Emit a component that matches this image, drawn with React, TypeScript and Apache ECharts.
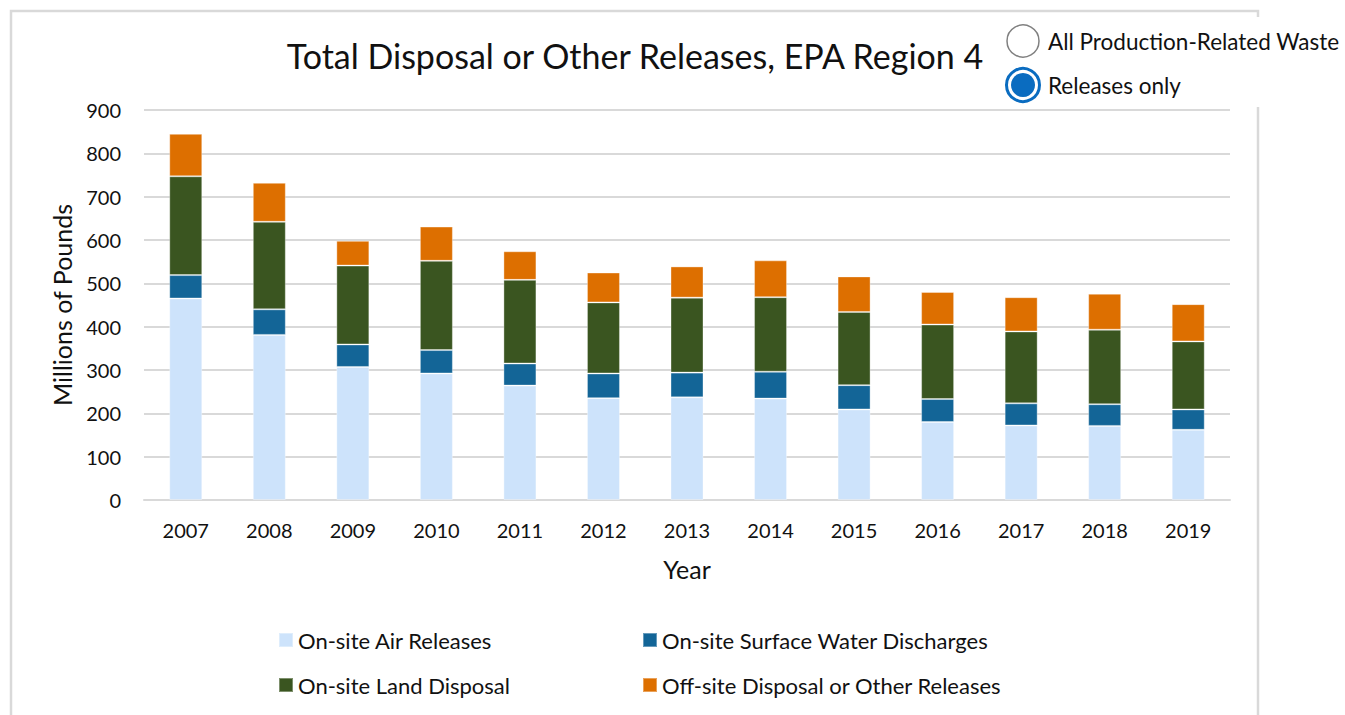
import React, { useEffect, useRef } from "react";
import * as echarts from "echarts";

const years = ["2007", "2008", "2009", "2010", "2011", "2012", "2013", "2014", "2015", "2016", "2017", "2018", "2019"];
const airReleases = [465, 381, 307, 292, 264, 235, 237, 234, 209, 180, 172, 171, 162];
const waterDischarges = [54, 59, 52, 54, 51, 57, 57, 62, 56, 53, 51, 50, 47];
const landDisposal = [228, 202, 182, 206, 193, 164, 173, 172, 169, 172, 166, 172, 157];
const offsiteDisposal = [98, 90, 57, 79, 66, 69, 72, 85, 82, 75, 79, 83, 86];
const seriesNames = [
  "On-site Air Releases",
  "On-site Surface Water Discharges",
  "On-site Land Disposal",
  "Off-site Disposal or Other Releases",
];
const seriesColors = ["#cde3fb", "#136597", "#3a5520", "#dd6f00"];
const radioLabels = ["All Production-Related Waste", "Releases only"];
const titleText = "Total Disposal or Other Releases, EPA Region 4";

const FONT = "Lato";

export default function App() {
  const ref = useRef<HTMLDivElement>(null);
  useEffect(() => {
    if (!ref.current) return;
    const chart = echarts.init(ref.current, undefined, { renderer: "svg" });
    const seriesData = [airReleases, waterDischarges, landDisposal, offsiteDisposal];
    const legendPos = [
      { left: 278, top: 629 },
      { left: 642, top: 629 },
      { left: 278, top: 674 },
      { left: 642, top: 674 },
    ];
    chart.setOption({
      animation: false,
      backgroundColor: "#ffffff",
      textStyle: { fontFamily: FONT },
      grid: { left: 144, right: 115, top: 110, bottom: 215, containLabel: false },
      legend: seriesNames.map((n, i) => ({
        data: [n],
        left: legendPos[i].left,
        top: legendPos[i].top,
        padding: 0,
        itemWidth: 14,
        itemHeight: 14,
        itemGap: 5,
        icon: "rect",
        selectedMode: false,
        textStyle: { fontFamily: FONT, fontSize: 22, color: "#111", padding: [0, 0, 0, 0] },
      })),
      xAxis: {
        type: "category",
        data: years,
        name: "Year",
        nameLocation: "middle",
        nameGap: 56,
        nameTextStyle: { fontFamily: FONT, fontSize: 25, color: "#111" },
        axisLine: { show: true, lineStyle: { color: "#d9d9d9", width: 2 } },
        axisTick: { show: false },
        axisLabel: { fontFamily: FONT, fontSize: 20, color: "#111", margin: 20 },
      },
      yAxis: {
        type: "value",
        min: 0,
        max: 900,
        interval: 100,
        name: "Millions of Pounds",
        nameLocation: "middle",
        nameGap: 70,
        nameTextStyle: { fontFamily: FONT, fontSize: 25, color: "#111" },
        axisLine: { show: false },
        axisTick: { show: false },
        axisLabel: { fontFamily: FONT, fontSize: 20, color: "#111", margin: 23 },
        splitLine: { lineStyle: { color: "#d9d9d9", width: 2 } },
      },
      series: seriesNames.map((n, i) => ({
        name: n,
        type: "bar",
        stack: "total",
        barWidth: 33,
        data: seriesData[i],
        itemStyle: { color: seriesColors[i], borderColor: "rgba(255,255,255,0.35)", borderWidth: 1 },
      })),
      graphic: [
        {
          type: "rect",
          z: -1,
          silent: true,
          shape: { x: 11, y: 11, width: 1247, height: 800 },
          style: { fill: "none", stroke: "#d9d9d9", lineWidth: 2.5 },
        },
        {
          type: "text",
          x: 635,
          y: 55,
          style: {
            text: titleText,
            fontFamily: FONT,
            fontSize: 34,
            fill: "#111",
            textAlign: "center",
            textVerticalAlign: "middle",
          },
        },
        {
          type: "rect",
          z: 10,
          shape: { x: 995, y: 17, width: 350, height: 90 },
          style: { fill: "#ffffff" },
        },
        {
          type: "circle",
          z: 11,
          shape: { cx: 1023, cy: 41, r: 16 },
          style: { fill: "#ffffff", stroke: "#808080", lineWidth: 1.5 },
        },
        {
          type: "circle",
          z: 11,
          shape: { cx: 1023, cy: 85, r: 16.5 },
          style: { fill: "#ffffff", stroke: "#0a6cc0", lineWidth: 3 },
        },
        {
          type: "circle",
          z: 12,
          shape: { cx: 1023, cy: 85, r: 12 },
          style: { fill: "#0a6cc0" },
        },
        {
          type: "text",
          z: 12,
          x: 1048,
          y: 41,
          style: { text: radioLabels[0], fontFamily: FONT, fontSize: 22.5, fill: "#111", textVerticalAlign: "middle" },
        },
        {
          type: "text",
          z: 12,
          x: 1048,
          y: 85,
          style: { text: radioLabels[1], fontFamily: FONT, fontSize: 22.5, fill: "#111", textVerticalAlign: "middle" },
        },
      ],
    });
    return () => chart.dispose();
  }, []);
  return (
    <div
      ref={ref}
      style={{ position: "fixed", left: 0, top: 0, width: 1345, height: 715 }}
    />
  );
}
